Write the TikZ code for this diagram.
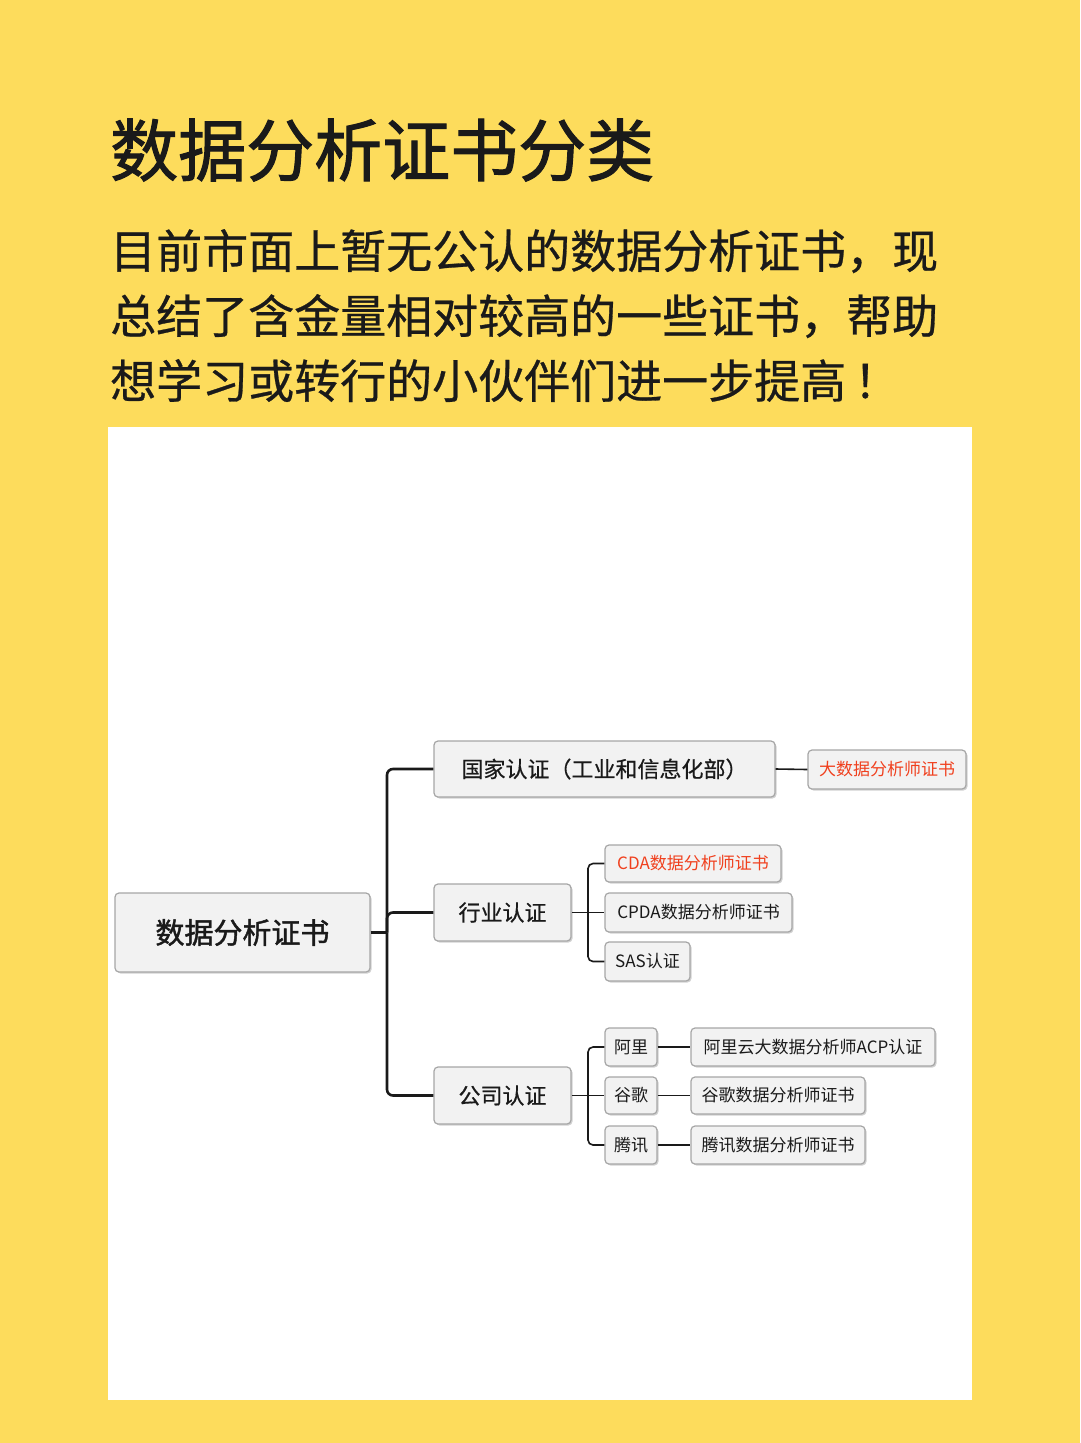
\documentclass[tikz,border=0pt]{standalone}
\usepackage{fontspec}
\setmainfont{Noto Sans CJK SC}
\newfontfamily\cjkb{Noto Sans CJK SC}[FakeBold=1.5]
\newfontfamily\cjkm{Noto Sans CJK SC}[FakeBold=0.6]
\usetikzlibrary{shadows}
\definecolor{bgy}{HTML}{FDDC5C}
\definecolor{txt}{HTML}{1A1A1A}
\definecolor{redt}{HTML}{F0401E}
\tikzset{
 box/.style={draw=gray!70,fill=gray!10,rounded corners=4pt,line width=1.2pt,inner sep=0pt,
   drop shadow={shadow xshift=1.5pt,shadow yshift=-1.5pt,fill=gray!45,opacity=0.8}},
 lk/.style={line width=2.6pt,draw=txt,rounded corners=6pt},
 sl/.style={line width=1.6pt,draw=txt,rounded corners=5pt}
}
\begin{document}
\begin{tikzpicture}[x=1pt,y=-1pt]
\fill[bgy] (0,0) rectangle (1080,1443);
\useasboundingbox (0,0) rectangle (1080,1443);
\fill[white] (108,427) rectangle (972,1400);
\node[anchor=west,font=\fontsize{68}{68}\selectfont\cjkb,text=txt,inner sep=0pt] (title) at (110,150) {数据分析证书分类};
\node[anchor=north west,align=left,font=\fontsize{46}{65}\selectfont\cjkm,text=txt,inner sep=0pt] (para) at (110,229)
{目前市面上暂无公认的数据分析证书，现\\总结了含金量相对较高的一些证书，帮助\\想学习或转行的小伙伴们进一步提高\,！};
% nodes
\node[box,minimum width=255pt,minimum height=79pt,font=\fontsize{29}{29}\selectfont\cjkb,text=txt] (root) at (242.5,932.5) {数据分析证书};
\node[box,minimum width=341pt,minimum height=56pt,font=\fontsize{22}{22}\selectfont\cjkm,text=txt] (gj) at (604.5,769) {国家认证（工业和信息化部）};
\node[box,minimum width=158pt,minimum height=39pt,font=\fontsize{17}{17}\selectfont,text=redt] (dsj) at (887,769.5) {大数据分析师证书};
\node[box,minimum width=137pt,minimum height=57pt,font=\fontsize{22}{22}\selectfont\cjkm,text=txt] (hy) at (502.5,912.5) {行业认证};
\node[box,minimum width=176pt,minimum height=37pt,font=\fontsize{17}{17}\selectfont,text=redt] (cda) at (693,863.5) {CDA数据分析师证书};
\node[box,minimum width=187pt,minimum height=39pt,font=\fontsize{17}{17}\selectfont,text=txt] (cpda) at (698.5,912.5) {CPDA数据分析师证书};
\node[box,minimum width=85pt,minimum height=39pt,font=\fontsize{17}{17}\selectfont,text=txt] (sas) at (647.5,961.5) {SAS认证};
\node[box,minimum width=137pt,minimum height=57pt,font=\fontsize{22}{22}\selectfont\cjkm,text=txt] (gs) at (502.5,1095.5) {公司认证};
\node[box,minimum width=52pt,minimum height=38pt,font=\fontsize{17}{17}\selectfont,text=txt] (al) at (631,1047) {阿里};
\node[box,minimum width=52pt,minimum height=37pt,font=\fontsize{17}{17}\selectfont,text=txt] (gg) at (631,1095.5) {谷歌};
\node[box,minimum width=52pt,minimum height=38pt,font=\fontsize{17}{17}\selectfont,text=txt] (tx) at (631,1145) {腾讯};
\node[box,minimum width=244pt,minimum height=38pt,font=\fontsize{17}{17}\selectfont,text=txt] (alc) at (813,1047) {阿里云大数据分析师ACP认证};
\node[box,minimum width=174pt,minimum height=37pt,font=\fontsize{17}{17}\selectfont,text=txt] (ggc) at (778,1095.5) {谷歌数据分析师证书};
\node[box,minimum width=174pt,minimum height=38pt,font=\fontsize{17}{17}\selectfont,text=txt] (txc) at (778,1145) {腾讯数据分析师证书};
% connectors
\coordinate (t) at (387,932.5);
\draw[lk] (root.east) -- (t);
\draw[lk] (t) -- (387,769) -- (gj.west);
\draw[lk] (t) -- (387,912.5) -- (hy.west);
\draw[lk] (t) -- (387,1095.5) -- (gs.west);
\draw[sl] (gj.east) -- (dsj.west);
\coordinate (h) at (588,912.5);
\draw[sl] (hy.east) -- (h);
\draw[sl] (h) -- (588,863.5) -- (cda.west);
\draw[sl] (h) -- (cpda.west);
\draw[sl] (h) -- (588,961.5) -- (sas.west);
\coordinate (g) at (588,1095.5);
\draw[sl] (gs.east) -- (g);
\draw[sl] (g) -- (588,1047) -- (al.west);
\draw[sl] (g) -- (gg.west);
\draw[sl] (g) -- (588,1145) -- (tx.west);
\draw[sl] (al.east) -- (alc.west);
\draw[sl] (gg.east) -- (ggc.west);
\draw[sl] (tx.east) -- (txc.west);
\end{tikzpicture}
\end{document}
